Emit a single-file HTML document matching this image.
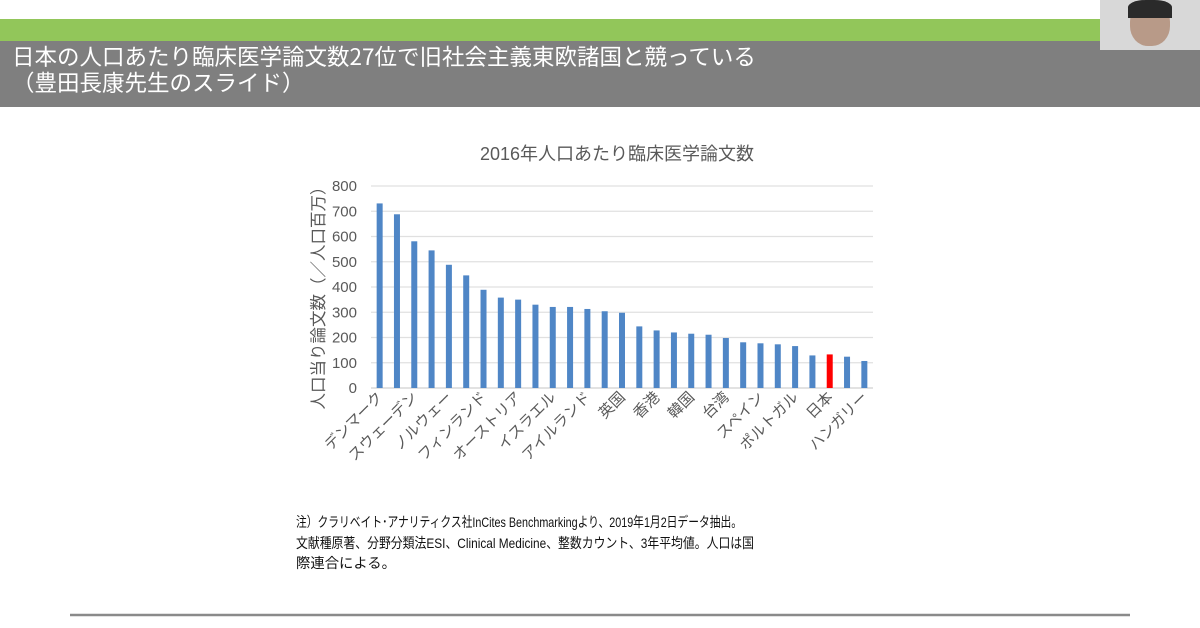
<!DOCTYPE html>
<html><head><meta charset="utf-8"><style>
body{margin:0;width:1200px;height:628px;overflow:hidden;background:#fff;position:relative;font-family:"Liberation Sans","Noto Sans CJK JP",sans-serif;}
.abs{position:absolute}
.fl{display:block;white-space:nowrap;transform-origin:0 0;width:max-content}
</style></head><body>
<div class="abs" style="left:0;top:19px;width:1100px;height:22px;background:#92c65a"></div>
<div class="abs" style="left:0;top:41px;width:1200px;height:66px;background:#7f7f7f"></div>
<div class="abs" style="left:12px;top:43px;color:#fff;font-size:22.5px;line-height:26px;font-family:'Noto Sans CJK JP',sans-serif">日本の人口あたり臨床医学論文数27位で旧社会主義東欧諸国と競っている<br>（豊田長康先生のスライド）</div>
<div class="abs" style="left:1100px;top:0;width:100px;height:50px;background:#d8d8d8"></div>
<div class="abs" style="left:1130px;top:2px;width:40px;height:44px;border-radius:45%;background:#b89a88"></div>
<div class="abs" style="left:1128px;top:0;width:44px;height:18px;border-radius:40% 40% 0 0;background:#2a2a2a"></div>
<svg class="abs" style="left:0;top:0" width="1200" height="628">
<text x="617" y="160" text-anchor="middle" font-size="18" fill="#595959">2016年人口あたり臨床医学論文数</text>
<g id="grid"></g><g id="bars"></g><g id="labels"></g>
<text transform="translate(324,294) rotate(-90)" text-anchor="middle" font-size="16.5" fill="#595959">人口当り論文数（／人口百万）</text>
<line x1="70" y1="615" x2="1130" y2="615" stroke="#8a8a8a" stroke-width="2.5"/>
</svg>
<div class="abs" style="left:296px;top:512px;font-size:14px;line-height:20.5px;color:#111">
<span class="fl" data-w="446">注）クラリベイト･アナリティクス社InCites Benchmarkingより、2019年1月2日データ抽出。</span>
<span class="fl" data-w="458">文献種原著、分野分類法ESI、Clinical Medicine、整数カウント、3年平均値。人口は国</span>
<span class="fl" data-w="100">際連合による。</span>
</div>
<script>
document.querySelectorAll('.fl').forEach(s=>{const w=s.getBoundingClientRect().width;s.style.transform='scaleX('+(+s.dataset.w/w)+')';});
</script>
<script>
const categories=["デンマーク","","スウェーデン","","ノルウェー","","フィンランド","","オーストリア","","イスラエル","","アイルランド","","英国","","香港","","韓国","","台湾","","スペイン","","ポルトガル","","日本","","ハンガリー"];
const values=[731,688,581,545,488,446,389,358,350,330,321,321,313,304,298,244,228,220,215,211,198,181,177,173,166,129,133,124,107];
const highlight=[26];
const ticks=[0,100,200,300,400,500,600,700,800];
const NS="http://www.w3.org/2000/svg";
const x0=371,x1=873,yb=388,yt=186,ymax=800;
const y=v=>yb-(yb-yt)*v/ymax;
const step=(x1-x0)/values.length;
const xc=i=>x0+step*(i+0.5);
const g=document.getElementById('grid'),b=document.getElementById('bars'),l=document.getElementById('labels');
ticks.forEach(t=>{
 const ln=document.createElementNS(NS,'line');
 ln.setAttribute('x1',x0);ln.setAttribute('x2',x1);ln.setAttribute('y1',y(t));ln.setAttribute('y2',y(t));
 ln.setAttribute('stroke',t===0?'#d0d0d0':'#e0e0e0');ln.setAttribute('stroke-width','1.2');
 
 
 g.appendChild(ln);
 const tx=document.createElementNS(NS,'text');
 tx.setAttribute('x',357);tx.setAttribute('y',y(t)+5);tx.setAttribute('text-anchor','end');
 tx.setAttribute('font-size','15');tx.setAttribute('fill','#595959');tx.textContent=t;
 
 
 g.appendChild(tx);
});
values.forEach((v,i)=>{
 const r=document.createElementNS(NS,'rect');
 const w=6;
 r.setAttribute('x',xc(i)-w/2);r.setAttribute('y',y(v));r.setAttribute('width',w);r.setAttribute('height',yb-y(v));
 r.setAttribute('fill',highlight.includes(i)?'#ff0000':'#4f86c6');
 
 
 b.appendChild(r);
 if(categories[i]){
  const t=document.createElementNS(NS,'text');
  t.setAttribute('transform',`translate(${xc(i)+4},${yb+10}) rotate(-45)`);
  t.setAttribute('text-anchor','end');t.setAttribute('font-size','15');t.setAttribute('fill','#595959');
  t.textContent=categories[i];
  
  
  l.appendChild(t);
 }
});
</script>
</body></html>
